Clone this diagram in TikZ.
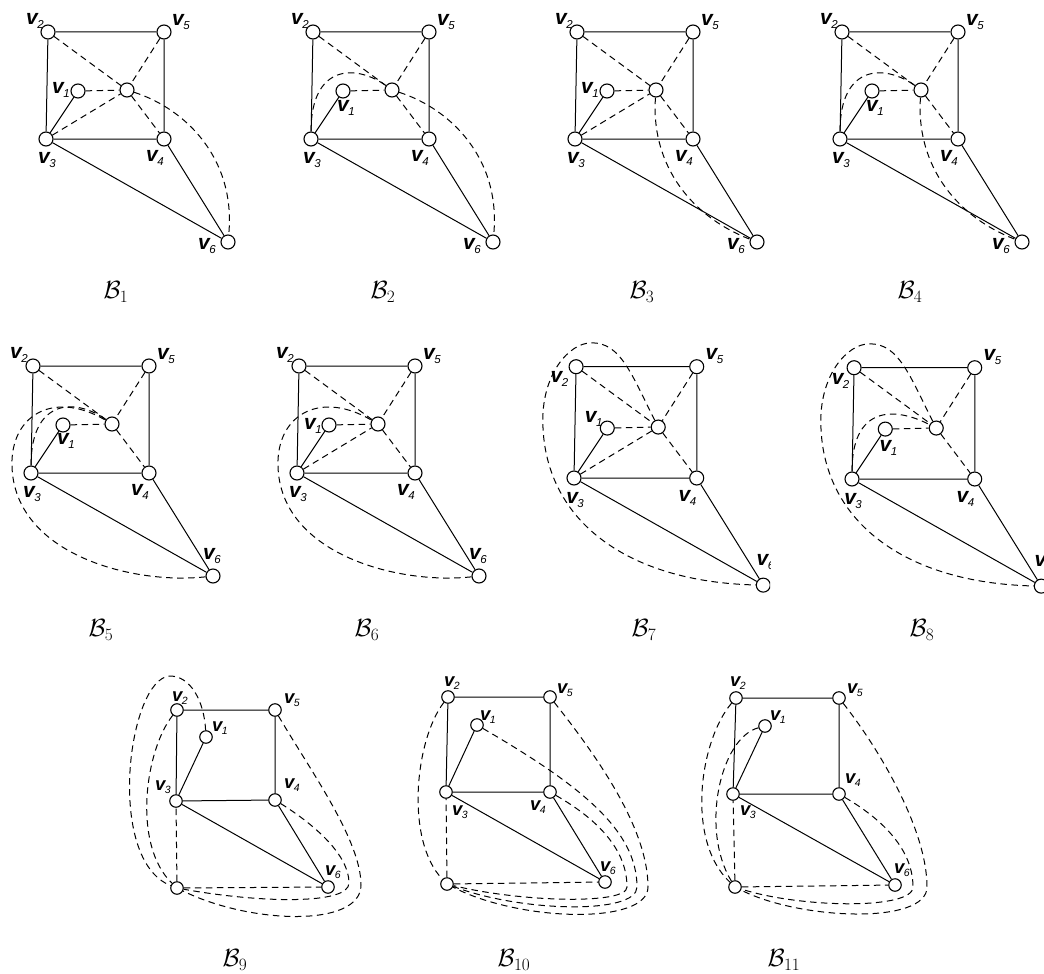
\documentclass[tikz,border=0pt]{standalone}
\usepackage{fontspec}
\newfontfamily\labfont{Liberation Sans}
\newcommand\vv[1]{{\fontsize{21}{21}\selectfont\bfseries\itshape v}\kern-0.5pt\raisebox{-4pt}{\fontsize{11.5}{11.5}\selectfont\itshape #1}}
\newcommand\sv[1]{{\fontsize{18.5}{18.5}\selectfont\bfseries\itshape v}\kern-0.5pt\raisebox{-3.5pt}{\fontsize{10.5}{10.5}\selectfont\itshape #1}}
\newcommand\basegraph{%
 \node[vtx] (v3) at (0,0) {};
 \node[vtx] (v2) at (2,-107) {};
 \node[vtx] (v5) at (118,-107) {};
 \node[vtx] (v1) at (32,-48) {};
 \node[vtx] (c) at (81,-49) {};
 \node[vtx] (v4) at (118,0) {};
 \node[vtx] (v6) at (182,103) {};
 \draw[ed] (v2)--(v5)--(v4)--(v3)--(v2) (v1)--(v3)--(v6)--(v4);
 \draw[dsh] (v2)--(c) (v5)--(c) (v1)--(c) (c)--(v4);
 \path (v5.center) ++(17,-10) node[lab] (l5) {\vv5};
 \path (v3.center) ++(1,21) node[lab] (l3) {\vv3};
 \path (v4.center) ++(-9,19) node[lab] (l4) {\vv4};
}
\newcommand\rowgraph{%
 \draw[ed] (v2)--(v5)--(v4)--(v3)--(v2) (v1)--(v3)--(v6)--(v4);
 \draw[dsh] (c)--(v3) (c)--(v6);
}
\begin{document}
\begin{tikzpicture}[x=1pt,y=-1pt,
 vtx/.style={circle,draw,line width=1.1pt,minimum size=14pt,inner sep=0pt,fill=white},
 svtx/.style={vtx,minimum size=12.5pt},
 ed/.style={line width=1pt},
 dsh/.style={line width=1pt,dash pattern=on 6.5pt off 4.5pt},
 lab/.style={font=\labfont,inner sep=0pt},
 captxt/.style={inner sep=0pt,font=\fontsize{26}{26}\selectfont}]
\useasboundingbox (0,0) rectangle (1044,974);
\fill[white] (0,0) rectangle (1044,974);

% B1
\begin{scope}[shift={(46,139)}]
\basegraph
\draw[dsh] (v3)--(c);
\draw[dsh] (c) .. controls (140,-30) and (190,20) .. (v6);
\path (v2.center) ++(-13,-11) node[lab] (l2) {\vv2};
\path (v1.center) ++(-17,-1) node[lab] (l1) {\vv1};
\path (v6.center) ++(-21,4) node[lab] (l6) {\vv6};
\end{scope}
% B2
\begin{scope}[shift={(311,139)}]
\basegraph
\draw[dsh] (v3) .. controls (0,-75) and (45,-75) .. (c);
\draw[dsh] (c) .. controls (140,-30) and (190,20) .. (v6);
\path (v2.center) ++(-13,-11) node[lab] (l2) {\vv2};
\path (v1.center) ++(3,17) node[lab] (l1) {\vv1};
\path (v6.center) ++(-21,4) node[lab] (l6) {\vv6};
\end{scope}
% B3
\begin{scope}[shift={(575,139)}]
\basegraph
\draw[dsh] (v3)--(c);
\draw[dsh] (c) .. controls (76,20) and (110,75) .. (v6);
\path (v2.center) ++(-13,-11) node[lab] (l2) {\vv2};
\path (v1.center) ++(-17,-1) node[lab] (l1) {\vv1};
\path (v6.center) ++(-21,4) node[lab] (l6) {\vv6};
\end{scope}
% B4
\begin{scope}[shift={(840,139)}]
\basegraph
\draw[dsh] (v3) .. controls (0,-75) and (45,-75) .. (c);
\draw[dsh] (c) .. controls (76,20) and (110,75) .. (v6);
\path (v2.center) ++(-13,-11) node[lab] (l2) {\vv2};
\path (v1.center) ++(3,17) node[lab] (l1) {\vv1};
\path (v6.center) ++(-21,4) node[lab] (l6) {\vv6};
\end{scope}
% B5
\begin{scope}[shift={(31,473)}]
\basegraph
\draw[dsh] (v3) .. controls (0,-75) and (45,-75) .. (c);
\draw[dsh] (v6) .. controls (100,112) and (-22,80) .. (-19,-13) .. controls (-17,-60) and (25,-82) .. (c);
\path (v2.center) ++(-14,-11) node[lab] (l2) {\vv2};
\path (v1.center) ++(3,16) node[lab] (l1) {\vv1};
\path (v6.center) ++(-1,-20) node[lab] (l6) {\vv6};
\end{scope}
% B6
\begin{scope}[shift={(297,473)}]
\basegraph
\draw[dsh] (v3)--(c);
\draw[dsh] (v6) .. controls (100,112) and (-22,80) .. (-19,-13) .. controls (-17,-60) and (25,-82) .. (c);
\path (v2.center) ++(-14,-11) node[lab] (l2) {\vv2};
\path (v1.center) ++(-16,1) node[lab] (l1) {\vv1};
\path (v6.center) ++(-1,-20) node[lab] (l6) {\vv6};
\end{scope}
% B7
\begin{scope}
\clip (520,300) rectangle (770,620);
\begin{scope}[shift={(574,478)},scale=1.04]
\basegraph
\draw[dsh] (v3)--(c);
\draw[dsh] (c) .. controls (55,-100) and (45,-130) .. (17,-130) .. controls (-5,-130) and (-30,-100) .. (-30,-56) .. controls (-30,40) and (50,100) .. (v6);
\path (v2.center) ++(-16,12) node[lab] (l2) {\vv2};
\path (v1.center) ++(-13,-9) node[lab] (l1) {\vv1};
\path (v6.center) ++(2,-22) node[lab] (l6) {\vv6};
\end{scope}
\end{scope}
% B8
\begin{scope}[shift={(852,479)},scale=1.04]
\basegraph
\draw[dsh] (v3) .. controls (0,-70) and (40,-70) .. (c);
\draw[dsh] (c) .. controls (55,-100) and (45,-130) .. (17,-130) .. controls (-5,-130) and (-30,-100) .. (-30,-56) .. controls (-30,40) and (50,100) .. (v6);
\path (v2.center) ++(-13,13) node[lab] (l2) {\vv2};
\path (v1.center) ++(3,18) node[lab] (l1) {\vv1};
\path (v6.center) ++(2,-22) node[lab] (l6) {\vv6};
\end{scope}

% B9
\node[svtx] (v2) at (177,710) {};
\node[svtx] (v5) at (275,710) {};
\node[svtx] (v1) at (206,737) {};
\node[svtx] (v3) at (176,801) {};
\node[svtx] (v4) at (275,800) {};
\node[svtx] (v6) at (328,887) {};
\node[svtx] (c) at (177,888) {};
\rowgraph
\draw[dsh] (v2) .. controls (145,750) and (132,845) .. (c);
\draw[dsh] (v1) .. controls (204,700) and (190,676) .. (170,676) .. controls (128,678) and (105,860) .. (c);
\draw[dsh] (v4) .. controls (315,825) and (349,855) .. (349,883) .. controls (349,905) and (260,903) .. (c);
\draw[dsh] (v5) .. controls (310,770) and (361,840) .. (361,885) .. controls (361,928) and (250,924) .. (c);
\path (v2.center) ++(3,-12) node[lab] (m2) {\sv2};
\path (v5.center) ++(17,-10) node[lab] (m5) {\sv5};
\path (v1.center) ++(14,-9) node[lab] (m1) {\sv1};
\path (v3.center) ++(-13,-14) node[lab] (m3) {\sv3};
\path (v4.center) ++(17,-15) node[lab] (m4) {\sv4};
\path (v6.center) ++(5,-15) node[lab] (m6) {\sv6};

% B10
\node[svtx] (v2) at (448,697) {};
\node[svtx] (v5) at (550,697) {};
\node[svtx] (v1) at (477,725) {};
\node[svtx] (v3) at (446,792) {};
\node[svtx] (v4) at (550,792) {};
\node[svtx] (v6) at (605,882) {};
\node[svtx] (c) at (447,884) {};
\rowgraph
\draw[dsh] (v2) .. controls (415,740) and (405,840) .. (c);
\draw[dsh] (v1) .. controls (580,785) and (637,830) .. (637,887) .. controls (637,915) and (520,912) .. (c);
\draw[dsh] (v4) .. controls (590,815) and (627,845) .. (627,887) .. controls (627,905) and (520,902) .. (c);
\draw[dsh] (v5) .. controls (600,760) and (648,830) .. (648,887) .. controls (648,925) and (520,922) .. (c);
\path (v2.center) ++(4,-14) node[lab] (n2) {\sv2};
\path (v5.center) ++(15,-7) node[lab] (n5) {\sv5};
\path (v1.center) ++(11,-8) node[lab] (n1) {\sv1};
\path (v3.center) ++(14,20) node[lab] (n3) {\sv3};
\path (v4.center) ++(-12,15) node[lab] (n4) {\sv4};
\path (v6.center) ++(3,-14) node[lab] (n6) {\sv6};

% B11
\node[svtx] (v2) at (736,698) {};
\node[svtx] (v5) at (839,698) {};
\node[svtx] (v1) at (765,726) {};
\node[svtx] (v3) at (733,794) {};
\node[svtx] (v4) at (839,794) {};
\node[svtx] (v6) at (895,885) {};
\node[svtx] (c) at (735,887) {};
\rowgraph
\draw[dsh] (v2) .. controls (700,740) and (685,840) .. (c);
\draw[dsh] (v1) .. controls (720,738) and (700,830) .. (c);
\draw[dsh] (v4) .. controls (875,815) and (913,845) .. (913,887) .. controls (913,910) and (800,908) .. (c);
\draw[dsh] (v5) .. controls (880,750) and (927,830) .. (927,887) .. controls (927,925) and (800,920) .. (c);
\path (v2.center) ++(2,-15) node[lab] (o2) {\sv2};
\path (v5.center) ++(16,-8) node[lab] (o5) {\sv5};
\path (v1.center) ++(13,-9) node[lab] (o1) {\sv1};
\path (v3.center) ++(15,18) node[lab] (o3) {\sv3};
\path (v4.center) ++(14,-14) node[lab] (o4) {\sv4};
\path (v6.center) ++(7,-15) node[lab] (o6) {\sv6};

% captions
\node[captxt] (b1) at (116,292) {$\mathcal{B}_1$};
\node[captxt] (b2) at (383,292) {$\mathcal{B}_2$};
\node[captxt] (b3) at (642,292) {$\mathcal{B}_3$};
\node[captxt] (b4) at (910,292) {$\mathcal{B}_4$};
\node[captxt] (b5) at (101,630) {$\mathcal{B}_5$};
\node[captxt] (b6) at (367,630) {$\mathcal{B}_6$};
\node[captxt] (b7) at (644,630) {$\mathcal{B}_7$};
\node[captxt] (b8) at (922,630) {$\mathcal{B}_8$};
\node[captxt] (b9) at (235,960) {$\mathcal{B}_9$};
\node[captxt] (b10) at (514,960) {$\mathcal{B}_{10}$};
\node[captxt] (b11) at (784,960) {$\mathcal{B}_{11}$};
\end{tikzpicture}
\end{document}
